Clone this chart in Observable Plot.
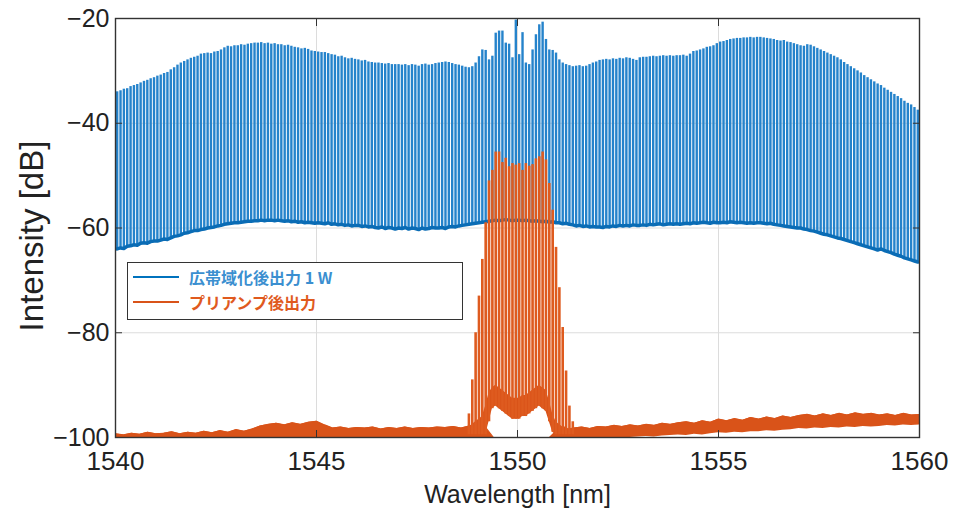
<!DOCTYPE html>
<html><head><meta charset="utf-8">
<script src="https://cdn.jsdelivr.net/npm/d3@7"></script>
<script src="https://cdn.jsdelivr.net/npm/@observablehq/plot@0.6"></script>
<style>
body{margin:0;background:#fff;}
#wrap{position:relative;width:953px;height:508px;overflow:hidden;}
.legend{position:absolute;left:127px;top:262px;width:334px;height:56px;border:1.5px solid #333;background:#fff;
  font-family:"Noto Sans CJK JP","Noto Sans",sans-serif;font-weight:700;font-size:16px;}
.legend .row{position:absolute;left:5px;height:20px;display:flex;align-items:center;}
.legend .sw{width:46px;height:2px;margin-right:10px;}
</style>
</head><body>
<div id="wrap"></div>
<script>
// ---- axis ticks ----
const xTicks = [1540, 1545, 1550, 1555, 1560];
const yTicks = [-100, -80, -60, -40, -20];
const seriesNames = ["広帯域化後出力 1 W", "プリアンプ後出力"];
const seriesColors = ["#0072BD", "#D95319"];

// ---- broadened comb (blue): 12 comb lines per nm, one row per nm from 1540 ----
const combPerNm = 12;
const blueTopRows = [
  [-34.0,-33.8,-33.5,-33.4,-33.0,-32.8,-32.6,-32.3,-32.0,-31.8,-31.5,-31.3],
  [-31.0,-30.8,-30.5,-30.3,-29.8,-29.4,-28.9,-28.5,-28.2,-27.9,-27.6,-27.4],
  [-27.2,-26.8,-26.7,-26.6,-26.7,-26.4,-26.3,-26.0,-25.6,-25.3,-25.4,-25.2],
  [-25.2,-25.0,-25.1,-24.9,-24.8,-24.7,-24.7,-24.6,-24.8,-24.7,-24.9,-24.8],
  [-25.0,-25.0,-25.2,-25.1,-25.3,-25.5,-25.6,-25.8,-25.7,-25.9,-26.2,-26.3],
  [-26.4,-26.5,-26.5,-26.7,-26.9,-27.0,-27.3,-27.2,-27.5,-27.7,-27.6,-27.8],
  [-27.9,-28.1,-28.0,-28.3,-28.4,-28.5,-28.5,-28.6,-28.7,-28.6,-28.8,-28.8],
  [-28.8,-28.9,-28.8,-29.0,-28.8,-28.9,-29.1,-28.8,-28.7,-28.9,-28.8,-28.6],
  [-28.5,-28.4,-28.3,-28.4,-28.6,-28.8,-28.9,-29.1,-29.3,-29.4,-29.2,-28.5],
  [-27.3,-26.0,-26.1,-27.9,-27.2,-22.8,-22.4,-22.4,-24.7,-24.9,-27.5,-20.3],
  [-26.9,-22.7,-28.5,-28.8,-26.0,-23.1,-21.2,-20.7,-24.0,-26.0,-26.1,-26.6],
  [-27.9,-28.5,-28.8,-29.0,-29.2,-29.1,-29.0,-29.2,-29.1,-28.8,-28.5,-28.3],
  [-28.0,-27.9,-27.8,-27.9,-27.7,-27.8,-27.6,-27.7,-27.5,-27.6,-27.8,-28.0],
  [-27.5,-27.4,-27.4,-27.3,-27.2,-27.3,-27.2,-27.1,-27.2,-27.1,-27.2,-27.1],
  [-27.1,-27.0,-27.2,-26.8,-26.3,-26.2,-26.0,-25.8,-25.5,-25.4,-25.2,-24.8],
  [-24.5,-24.4,-24.2,-24.0,-23.9,-23.8,-23.8,-23.7,-23.7,-23.6,-23.7,-23.6],
  [-23.6,-23.7,-23.8,-23.9,-24.0,-24.2,-24.3,-24.2,-24.5,-24.6,-24.8,-25.0],
  [-25.2,-25.3,-25.0,-25.1,-25.4,-25.7,-26.0,-26.3,-26.6,-26.9,-27.2,-27.5],
  [-27.9,-28.4,-28.8,-29.2,-29.6,-30.0,-30.4,-30.9,-31.3,-31.7,-32.1,-32.5],
  [-32.8,-33.3,-33.7,-34.1,-34.5,-34.9,-35.3,-35.8,-36.2,-36.5,-37.0,-37.5]
];
const blueFloorRows = [
  [-64.0,-63.8,-63.9,-63.5,-63.4,-63.2,-63.3,-62.9,-62.8,-62.9,-62.6,-62.5],
  [-62.5,-62.3,-62.1,-62.2,-61.9,-61.6,-61.5,-61.3,-61.0,-60.9,-60.7,-60.5],
  [-60.5,-60.3,-60.2,-60.0,-59.9,-59.8,-59.6,-59.5,-59.3,-59.2,-59.1,-59.0],
  [-59.0,-58.9,-58.8,-58.7,-58.7,-58.6,-58.6,-58.5,-58.6,-58.5,-58.5,-58.6],
  [-58.5,-58.6,-58.7,-58.6,-58.8,-58.7,-58.9,-58.8,-59.0,-58.9,-59.0,-59.1],
  [-59.0,-59.1,-59.2,-59.0,-59.3,-59.2,-59.4,-59.3,-59.5,-59.4,-59.6,-59.5],
  [-59.5,-59.7,-59.6,-59.8,-59.7,-59.9,-60.0,-59.8,-60.1,-59.9,-60.0,-60.2],
  [-60.0,-60.1,-59.9,-60.2,-60.0,-60.1,-60.3,-60.0,-60.2,-60.1,-59.9,-60.0],
  [-60.0,-59.9,-60.1,-59.8,-59.7,-59.8,-59.6,-59.5,-59.4,-59.3,-59.2,-59.1],
  [-59.0,-58.9,-58.8,-58.7,-58.6,-58.5,-58.6,-58.5,-58.4,-58.5,-58.6,-58.5],
  [-58.5,-58.6,-58.5,-58.6,-58.7,-58.6,-58.7,-58.8,-58.7,-58.9,-58.8,-59.0],
  [-59.0,-59.2,-59.1,-59.3,-59.4,-59.6,-59.5,-59.7,-59.6,-59.8,-59.7,-59.8],
  [-59.8,-59.9,-59.7,-59.8,-59.6,-59.7,-59.5,-59.6,-59.5,-59.6,-59.4,-59.5],
  [-59.5,-59.4,-59.5,-59.3,-59.4,-59.3,-59.2,-59.4,-59.3,-59.2,-59.3,-59.2],
  [-59.3,-59.2,-59.1,-59.2,-59.0,-59.1,-59.0,-58.9,-59.0,-59.1,-58.9,-59.0],
  [-59.0,-58.9,-59.0,-58.8,-58.9,-59.0,-58.9,-59.0,-59.1,-59.0,-59.1,-59.0],
  [-59.0,-59.1,-59.2,-59.1,-59.3,-59.4,-59.5,-59.6,-59.7,-59.8,-59.9,-60.0],
  [-60.0,-60.2,-60.3,-60.5,-60.6,-60.8,-61.0,-61.2,-61.3,-61.5,-61.7,-61.9],
  [-62.0,-62.2,-62.4,-62.6,-62.8,-63.0,-63.2,-63.4,-63.6,-63.8,-64.0,-64.2],
  [-64.0,-64.3,-64.5,-64.7,-65.0,-65.2,-65.4,-65.7,-65.9,-66.1,-66.3,-66.5]
];

// ---- pre-amp comb (orange): 32 comb lines starting at comb index 105 (1548.79 nm) ----
const orangeStartIndex = 105;
const orangeTop = [-95.5,-89,-80,-73,-66,-59,-51,-49,-45.5,-45.5,-47.5,-46.7,-48.3,-47.7,-48.0,-47.7,
  -49.0,-47.7,-48.2,-47.9,-46.8,-46.4,-45.5,-47.0,-51.5,-56.6,-63.7,-71.4,-79.0,-87.3,-94.0,-97.0];
const orangeBottom = [-99.5,-99.5,-99.5,-99.5,-99.5,-99.5,-97,-94.5,-94,-94.5,-95,-95.5,-96,-96.5,-96.5,-96.5,
  -96,-96,-95.5,-95,-94.5,-94,-94.5,-95,-97,-99,-99.5,-99.5,-99.5,-99.5,-99.5,-99.5];
const orangePedTop = [-98,-97.5,-97,-96.5,-96,-94,-91.5,-90.5,-90,-90.5,-91,-91.5,-92,-92.5,-92.5,-92.5,
  -92,-92,-91.5,-91,-90.5,-90,-90.5,-91,-93,-95.5,-97,-97.5,-98,-98,-98.5,-98.5];

// ---- pre-amp noise floor band, sampled every 0.2 nm from 1540 ----
const noiseStart = 1540, noiseStep = 0.2;
const noiseHi = [-99.3,-99.5,-99.2,-99.4,-99.0,-99.3,-99.2,-98.9,-99.3,-99.0,
  -99.2,-98.8,-99.1,-98.7,-99.0,-98.5,-98.8,-98.4,-97.8,-97.5,
  -97.3,-97.6,-97.2,-97.5,-97.1,-96.9,-97.6,-98.2,-98.0,-98.3,
  -98.1,-98.2,-98.0,-98.4,-98.1,-98.3,-98.0,-98.3,-98.1,-98.2,
  -98.0,-98.1,-97.9,-98.2,-97.8,-97.5,-98.0,-100,-100,-100,
  -100,-100,-100,-100,-100,-98.5,-98.5,-98.2,-98.0,-98.3,
  -97.9,-98.0,-97.7,-97.9,-97.6,-97.8,-97.5,-97.7,-97.3,-97.5,
  -97.2,-97.0,-97.3,-96.8,-97.1,-96.5,-96.8,-96.4,-96.7,-96.2,
  -96.5,-96.1,-96.4,-95.9,-96.2,-95.8,-95.6,-95.9,-95.5,-95.8,
  -95.4,-95.7,-95.3,-95.6,-95.4,-95.7,-95.5,-95.8,-95.4,-95.7,-95.6];
const noiseLo = [-100,-100,-100,-100,-100,-100,-100,-100,-100,-100,
  -100,-100,-100,-100,-100,-100,-100,-100,-100,-100,
  -100,-100,-100,-100,-100,-100,-100,-100,-100,-100,
  -100,-100,-100,-100,-100,-100,-100,-100,-100,-100,
  -100,-100,-100,-100,-100,-100,-100,-100,-100,-100,
  -100,-100,-100,-100,-100,-100,-100,-100,-100,-100,
  -100,-100,-100,-100,-100,-99.9,-99.8,-99.9,-99.7,-99.6,
  -99.5,-99.6,-99.4,-99.5,-99.3,-99.1,-99.2,-99.0,-99.1,-98.9,
  -98.9,-98.7,-98.8,-98.6,-98.5,-98.3,-98.4,-98.2,-98.3,-98.1,
  -98.2,-98.0,-98.1,-97.9,-98.0,-97.9,-97.7,-97.8,-97.6,-97.7,-97.6];

// ---- build tables ----
const comb = blueTopRows.flatMap((row, r) => row.map((v, k) => ({
  x: xTicks[0] + r + (k + 0.5) / combPerNm, top: v, floor: blueFloorRows[r][k]
})));
const orangeComb = orangeTop.map((v, i) => ({
  x: comb[orangeStartIndex + i].x, top: v, bottom: orangeBottom[i], ped: orangePedTop[i]
}));
const noise = noiseHi.map((v, i) => ({x: noiseStart + i * noiseStep, hi: v, lo: noiseLo[i]}));

const yFont = "'Liberation Sans',Arial,sans-serif";

const chart = Plot.plot({
  width: 953, height: 508,
  marginLeft: 115, marginRight: 34, marginTop: 18, marginBottom: 71,
  x: {domain: [1540, 1560]},
  y: {domain: [-100, -20]},
  style: {background: "#fff", overflow: "visible"},
  marks: [
    Plot.ruleX(xTicks.slice(1, -1), {stroke: "#dcdcdc", strokeWidth: 1}),
    Plot.ruleY(yTicks.slice(1, -1), {stroke: "#dcdcdc", strokeWidth: 1}),
    // blue broadened comb
    Plot.ruleX(comb, {x: "x", y1: "floor", y2: "top", stroke: "#2583cb", strokeWidth: 2.4, clip: true}),
    Plot.line(comb, {x: "x", y: "floor", stroke: "#0a6cb5", strokeWidth: 3.5, clip: true}),
    // orange pre-amp
    Plot.areaY(noise, {x: "x", y1: "lo", y2: "hi", fill: "#D95319", clip: true}),
    Plot.line(noise, {x: "x", y: "hi", stroke: "#D95319", strokeWidth: 1.2, clip: true}),
    Plot.areaY(orangeComb, {x: "x", y1: "bottom", y2: "ped", fill: "#D95319", clip: true}),
    Plot.ruleX(orangeComb, {x: "x", y1: "bottom", y2: "top", stroke: "#de5b1f", strokeWidth: 2.6, clip: true}),
    Plot.frame({stroke: "#333", strokeWidth: 1.4}),
    // axes
    Plot.axisX({anchor: "bottom", ticks: xTicks, tickSize: 0, tickPadding: 14, tickFormat: d => String(d),
      fontSize: 26, fontFamily: yFont, fill: "#222", label: null}),
    Plot.axisX({anchor: "bottom", ticks: xTicks, tickSize: -7, tickFormat: () => "", stroke: "#333", label: null}),
    Plot.axisX({anchor: "top", ticks: xTicks, tickSize: -7, tickFormat: () => "", stroke: "#333", label: null}),
    Plot.axisY({anchor: "left", ticks: yTicks, tickSize: 0, tickPadding: 6, fontSize: 25, fontFamily: yFont, fill: "#222", label: null}),
    Plot.axisY({anchor: "left", ticks: yTicks, tickSize: -7, tickFormat: () => "", stroke: "#333", label: null}),
    Plot.axisY({anchor: "right", ticks: yTicks, tickSize: -7, tickFormat: () => "", stroke: "#333", label: null}),
    Plot.text(["Wavelength [nm]"], {frameAnchor: "bottom", dy: 57, fontSize: 25, fontFamily: yFont, fill: "#222", lineAnchor: "middle", textAnchor: "middle"}),
    Plot.text(["Intensity [dB]"], {frameAnchor: "left", dx: -83, dy: 8, rotate: -90, fontSize: 33, fontFamily: yFont, fill: "#222", lineAnchor: "middle", textAnchor: "middle"})
  ]
});

const wrap = document.getElementById("wrap");
wrap.appendChild(chart);
const legend = document.createElement("div");
legend.className = "legend";
seriesNames.forEach((name, i) => {
  const row = document.createElement("div");
  row.className = "row";
  row.style.top = (i === 0 ? 4 : 29) + "px";
  const sw = document.createElement("div");
  sw.className = "sw";
  sw.style.background = seriesColors[i];
  const t = document.createElement("span");
  t.textContent = name;
  t.style.color = i === 0 ? "#3b8fd0" : "#e05a1e";
  row.appendChild(sw); row.appendChild(t);
  legend.appendChild(row);
});
wrap.appendChild(legend);
</script>
</body></html>
